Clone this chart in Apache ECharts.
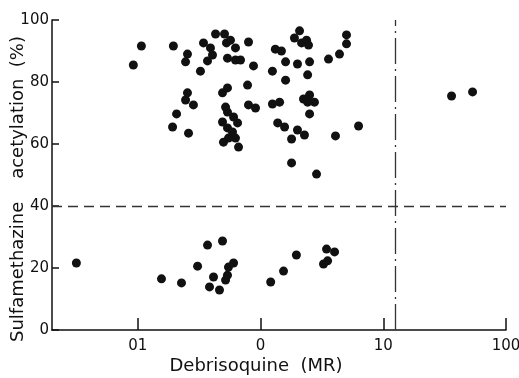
<!DOCTYPE html>
<html>
<head>
<meta charset="utf-8">
<script src="https://cdn.jsdelivr.net/npm/echarts@6/dist/echarts.min.js"></script>
<style>
  html, body { margin: 0; padding: 0; background: #fff; }
  #chart { width: 519px; height: 378px; }
</style>
</head>
<body>
<div id="chart"></div>
<script>
// debrisoquine metabolic ratio (log scale)
const mrValues = [
  0.107, 0.092, 0.195, 0.254, 0.245, 0.324, 0.430, 0.343, 0.391, 0.406,
  0.370, 0.509, 0.528, 0.569, 0.625, 0.538, 0.625, 0.687, 0.798, 0.877,
  0.784, 0.490, 0.538, 0.254, 0.245, 0.284, 0.207, 0.192, 0.259, 0.519,
  0.538, 0.798, 0.910, 0.490, 0.603, 0.650, 0.538, 0.591, 0.499, 0.548,
  0.625, 0.662, 2.08, 1.89, 2.16, 2.37, 2.46, 1.32, 1.48, 5.02,
  5.02, 4.40, 3.58, 1.60, 2.00, 2.51, 1.25, 2.42, 1.60, 1.25,
  1.43, 2.24, 2.51, 2.75, 2.42, 2.51, 1.38, 1.57, 2.00, 2.28,
  1.79, 4.08, 6.29, 1.79, 2.86, 36.0, 53.4,
  0.0316, 0.156, 0.227, 0.307, 0.370, 0.490, 0.414, 0.384, 0.463, 0.519,
  0.538, 0.548, 0.603, 1.21, 1.54, 1.96, 3.45, 4.01, 3.52, 3.26
];
// sulfamethazine acetylation (%)
const acetValues = [
  91.6, 85.5, 91.6, 89.0, 86.5, 83.5, 95.5, 92.6, 91.0, 88.7,
  86.8, 95.5, 92.6, 93.5, 91.0, 87.7, 87.1, 87.1, 92.9, 85.2,
  79.0, 76.5, 78.1, 76.5, 74.2, 72.6, 69.7, 65.5, 63.5, 71.9,
  70.3, 72.6, 71.6, 67.1, 68.7, 66.8, 65.2, 63.9, 60.6, 61.9,
  61.9, 59.0, 96.5, 94.2, 92.6, 93.5, 91.9, 90.6, 90.0, 95.2,
  92.3, 89.0, 87.4, 86.5, 85.8, 86.5, 83.5, 82.3, 80.6, 72.9,
  73.5, 74.5, 75.8, 73.5, 73.5, 69.7, 66.8, 65.5, 64.5, 62.9,
  61.6, 62.6, 65.8, 53.9, 50.3, 75.5, 76.8,
  21.6, 16.5, 15.2, 20.6, 27.4, 28.7, 17.1, 13.9, 12.9, 16.1,
  17.7, 20.3, 21.6, 15.5, 19.0, 24.2, 26.1, 25.2, 22.3, 21.3
];
const xTickValues = [0.1, 1, 10, 100];
const xTickLabels = ['01', '0', '10', '100'];
const acetCutoff = 40;
const mrAntimode = 12.6;

const points = mrValues.map((v, i) => [v, acetValues[i]]);
const font = 'DejaVu Sans';
const ink = '#111';

const chart = echarts.init(document.getElementById('chart'));
chart.setOption({
  animation: false,
  grid: { left: 52, right: 13, top: 20, bottom: 48, containLabel: false, outerBoundsMode: 'none' },
  xAxis: {
    type: 'log',
    logBase: 10,
    min: 0.02,
    max: 100,
    name: 'Debrisoquine  (MR)',
    nameLocation: 'middle',
    nameGap: 27,
    nameMoveOverlap: false,
    nameTextStyle: { fontFamily: font, fontSize: 18, color: ink, padding: [0, 46, 0, 0] },
    axisLine: { lineStyle: { color: ink, width: 1.5 } },
    axisTick: { inside: true, length: 12, lineStyle: { color: ink, width: 1.5 } },
    axisLabel: {
      fontFamily: font, fontSize: 15, color: ink, margin: 9,
      showMinLabel: false,
      formatter: function (v) {
        const i = xTickValues.findIndex(t => Math.abs(Math.log10(t) - Math.log10(v)) < 1e-6);
        return i >= 0 ? xTickLabels[i] : '';
      }
    },
    splitLine: { show: false },
    minorTick: { show: false }
  },
  yAxis: {
    type: 'value',
    min: 0,
    max: 100,
    interval: 20,
    name: 'Sulfamethazine    acetylation  (%)',
    nameLocation: 'middle',
    nameRotate: 90,
    nameGap: 25,
    nameMoveOverlap: false,
    nameTextStyle: { fontFamily: font, fontSize: 18, color: ink, padding: [0, 28, 0, 0] },
    axisLine: { show: true, lineStyle: { color: ink, width: 1.5 } },
    axisTick: { show: true, inside: true, length: 7, lineStyle: { color: ink, width: 1.5 } },
    axisLabel: { fontFamily: font, fontSize: 15, color: ink, margin: 3 },
    splitLine: { show: false }
  },
  series: [{
    type: 'scatter',
    data: points,
    symbol: 'circle',
    symbolSize: 9,
    itemStyle: { color: ink, opacity: 1 },
    silent: true,
    markLine: {
      silent: true,
      symbol: 'none',
      label: { show: false },
      data: [
        { yAxis: acetCutoff, lineStyle: { type: [10, 6], color: '#333', width: 1.3 } },
        { xAxis: mrAntimode, lineStyle: { type: [26, 5, 2, 5], color: '#333', width: 1.3 } }
      ]
    }
  }]
});
</script>
</body>
</html>
